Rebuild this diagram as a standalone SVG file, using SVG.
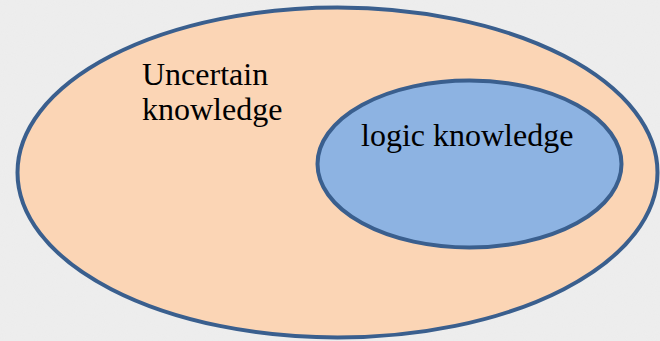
<svg xmlns="http://www.w3.org/2000/svg" width="660" height="341" viewBox="0 0 660 341">
  <style>
    .set { stroke: #3A5F8E; stroke-width: 4; }
    .outer { fill: #FBD5B5; }
    .inner { fill: #8DB3E2; }
    .label { font-family: "Liberation Serif", "Times New Roman", serif; font-size: 32px; fill: #000; }
  </style>
  <defs>
    <filter id="paper" x="0" y="0" width="100%" height="100%">
      <feTurbulence type="fractalNoise" baseFrequency="0.9" numOctaves="2" seed="3" result="noise"/>
      <feColorMatrix in="noise" type="matrix" values="0 0 0 0 0.5  0 0 0 0 0.5  0 0 0 0 0.5  0 0 0 0.06 0"/>
      <feComposite in2="SourceGraphic" operator="over"/>
    </filter>
  </defs>
  <!-- paper background -->
  <rect width="660" height="341" fill="#EEEEEE"/>
  <rect width="660" height="341" fill="#EEEEEE" filter="url(#paper)"/>

  <g id="uncertain-knowledge">
    <ellipse class="set outer" cx="337.5" cy="172.5" rx="320" ry="165"/>
    <text class="label" x="142" y="85">Uncertain</text>
    <text class="label" x="142" y="120">knowledge</text>
  </g>

  <g id="logic-knowledge">
    <ellipse class="set inner" cx="469.5" cy="164" rx="152" ry="83.5"/>
    <text class="label" x="361" y="146">logic knowledge</text>
  </g>

  <g id="connectors"/>
</svg>
